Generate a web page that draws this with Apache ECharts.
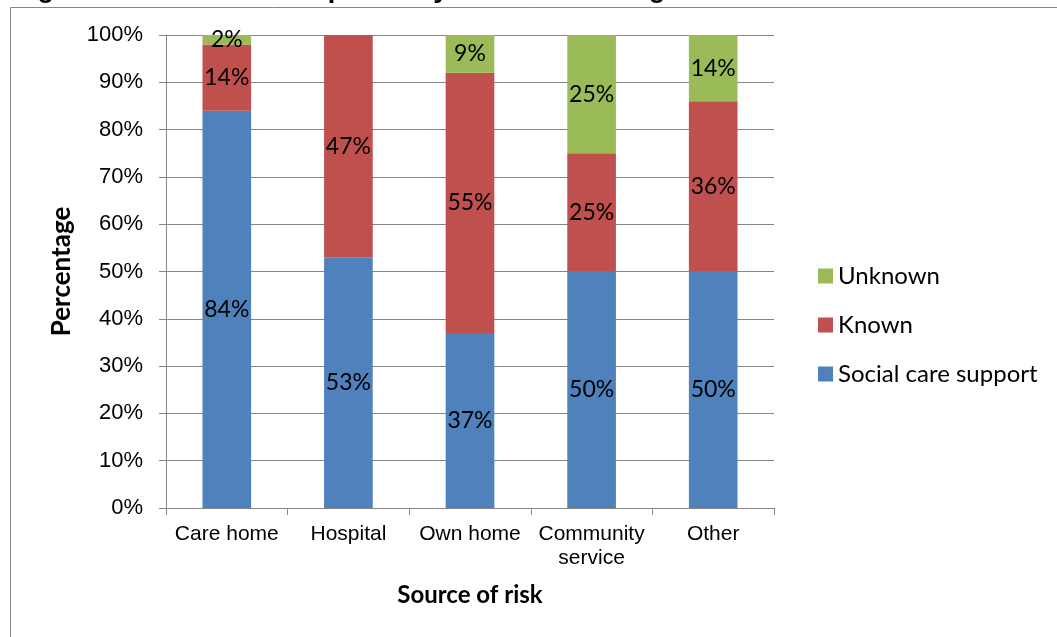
<!DOCTYPE html>
<html>
<head>
<meta charset="utf-8">
<script src="https://cdn.jsdelivr.net/npm/echarts@6/dist/echarts.min.js"></script>
<style>
html,body{margin:0;padding:0;background:#fff;}
#c{width:1057px;height:637px;}
</style>
</head>
<body>
<div id="c"></div>
<script>
var categories = ['Care home', 'Hospital', 'Own home', 'Community\nservice', 'Other'];
var socialCare = [84, 53, 37, 50, 50];
var known = [14, 47, 55, 25, 36];
var unknown = [2, 0, 9, 25, 14];
var yTicks = [0, 10, 20, 30, 40, 50, 60, 70, 80, 90, 100];

var chart = echarts.init(document.getElementById('c'), null, {renderer: 'canvas'});
var grey = '#868686';
var labelCfg = {
  show: true, position: 'inside', color: '#000',
  fontFamily: 'Lato', fontSize: 23,
  formatter: function (p) { return p.value ? p.value + '%' : ''; }
};
chart.setOption({
  animation: false,
  backgroundColor: '#fff',
  graphic: [
    {type: 'rect', shape: {x: 10.5, y: 7.5, width: 1100, height: 700}, style: {fill: 'none', stroke: grey, lineWidth: 1}, z: -1},
    {type: 'text', x: 13, y: 3, style: {text: 'Figure 5: Concluded enquiries by location of alleged abuse and source of risk', fontFamily: 'Liberation Sans', fontWeight: 'bold', fontSize: 27.5, fill: '#000', verticalAlign: 'bottom', align: 'left'}}
  ],
  grid: {left: 166, right: 283, top: 35, bottom: 129, containLabel: false},
  legend: {
    orient: 'vertical', left: 818, top: 264, padding: 0,
    data: ['Unknown', 'Known', 'Social care support'],
    itemWidth: 15, itemHeight: 15, itemGap: 25,
    icon: 'rect',
    textStyle: {fontFamily: 'Lato', fontSize: 24, color: '#000'}
  },
  xAxis: {
    type: 'category', data: categories,
    name: 'Source of risk', nameLocation: 'middle', nameGap: 75,
    nameTextStyle: {fontFamily: 'Lato', fontWeight: 'bold', fontSize: 24, color: '#000'},
    axisLine: {lineStyle: {color: grey, width: 1}},
    axisTick: {show: true, length: 7, alignWithLabel: false, lineStyle: {color: grey}},
    axisLabel: {fontFamily: 'Liberation Sans', fontSize: 21, color: '#000', margin: 14, lineHeight: 24, interval: 0}
  },
  yAxis: {
    type: 'value', min: 0, max: 100, interval: 10,
    name: 'Percentage', nameLocation: 'middle', nameGap: 91, nameRotate: 90,
    nameTextStyle: {fontFamily: 'Lato', fontWeight: 'bold', fontSize: 26, color: '#000'},
    axisLine: {show: true, lineStyle: {color: grey, width: 1}},
    axisTick: {show: true, length: 7, lineStyle: {color: grey}},
    splitLine: {show: true, lineStyle: {color: grey, width: 1}},
    axisLabel: {fontFamily: 'Liberation Sans', fontSize: 22, color: '#000', margin: 23,
      formatter: function (v) { return v + '%'; }},
  },
  series: [
    {name: 'Social care support', type: 'bar', stack: 's', data: socialCare, barWidth: '40%', itemStyle: {color: '#4F81BD'}, label: labelCfg},
    {name: 'Known', type: 'bar', stack: 's', data: known, barWidth: '40%', itemStyle: {color: '#C0504D'}, label: labelCfg},
    {name: 'Unknown', type: 'bar', stack: 's', data: unknown, barWidth: '40%', itemStyle: {color: '#9BBB59'}, label: labelCfg}
  ]
});
</script>
</body>
</html>
